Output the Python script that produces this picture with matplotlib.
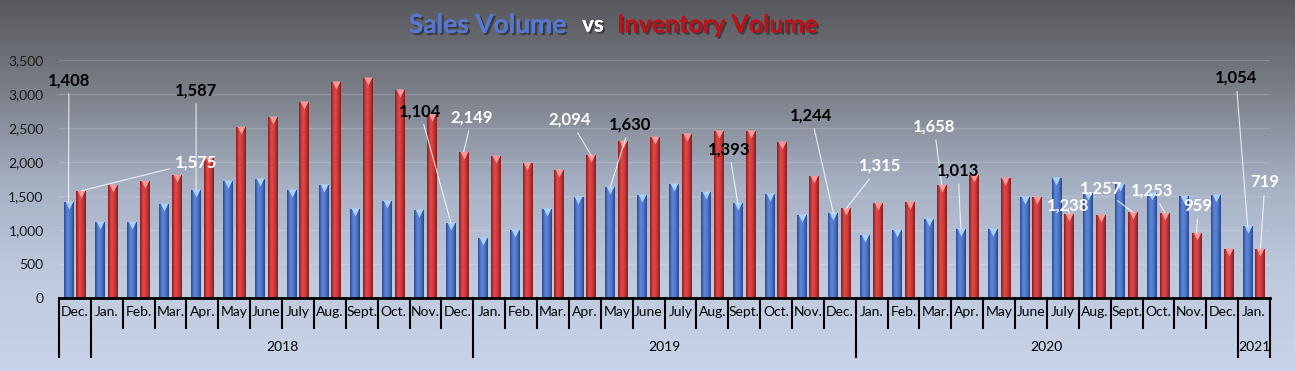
import numpy as np
import matplotlib
matplotlib.use('Agg')
import matplotlib.pyplot as plt
import matplotlib.transforms as mtransforms
import matplotlib.patheffects as pe
from matplotlib.colors import LinearSegmentedColormap

plt.rcParams['font.family'] = ['Lato', 'DejaVu Sans']

# monthly data, Dec 2017 .. Jan 2021
months = ['Dec.',
          'Jan.', 'Feb.', 'Mar.', 'Apr.', 'May', 'June', 'July', 'Aug.', 'Sept.', 'Oct.', 'Nov.', 'Dec.',
          'Jan.', 'Feb.', 'Mar.', 'Apr.', 'May', 'June', 'July', 'Aug.', 'Sept.', 'Oct.', 'Nov.', 'Dec.',
          'Jan.', 'Feb.', 'Mar.', 'Apr.', 'May', 'June', 'July', 'Aug.', 'Sept.', 'Oct.', 'Nov.', 'Dec.',
          'Jan.']
years = ['2018', '2019', '2020', '2021']
year_spans = [(1, 12), (13, 24), (25, 36), (37, 37)]

sales = [1408,
         1117, 1117, 1382, 1587, 1725, 1754, 1588, 1666, 1303, 1426, 1294, 1104,
         877, 1000, 1303, 1485, 1630, 1519, 1681, 1553, 1393, 1529, 1225, 1244,
         931, 995, 1156, 1013, 1014, 1490, 1759, 1535, 1681, 1535, 1499, 1519,
         1054]
inventory = [1575,
             1666, 1715, 1813, 2073, 2505, 2652, 2877, 3175, 3234, 3053, 2696, 2149,
             2088, 1990, 1877, 2094, 2308, 2367, 2416, 2455, 2455, 2293, 1793, 1315,
             1392, 1411, 1658, 1803, 1764, 1490, 1238, 1222, 1257, 1253, 959, 720,
             719]

# labelled points: (series, month index, text x, text y, text colour)
callouts = [
    ('s', 0, -0.19, 3200, 'black'),
    ('i', 0, 3.80, 1995, 'white'),
    ('s', 4, 3.80, 3053, 'black'),
    ('s', 12, 10.83, 2745, 'black'),
    ('i', 12, 12.46, 2652, 'white'),
    ('i', 16, 15.53, 2622, 'white'),
    ('s', 17, 17.42, 2553, 'black'),
    ('s', 21, 20.52, 2186, 'black'),
    ('s', 24, 23.10, 2686, 'black'),
    ('i', 24, 25.26, 1940, 'white'),
    ('i', 27, 26.96, 2524, 'white'),
    ('s', 28, 27.71, 1877, 'black'),
    ('i', 31, 31.16, 1363, 'white'),
    ('i', 33, 32.20, 1612, 'white'),
    ('i', 34, 33.80, 1583, 'white'),
    ('i', 35, 35.24, 1352, 'white'),
    ('s', 37, 36.43, 3234, 'black'),
    ('i', 37, 37.34, 1705, 'white'),
]

W, H = 1295, 371
fig = plt.figure(figsize=(W / 100, H / 100), dpi=100)

# background gradient
bg = fig.add_axes([0, 0, 1, 1], zorder=-10)
bg_cmap = LinearSegmentedColormap.from_list('bg', ['#58585c', '#7c808a', '#a6b1c4', '#bfcadf', '#c9d3e8'])
bg.imshow(np.linspace(0, 1, 256).reshape(-1, 1), aspect='auto', cmap=bg_cmap,
          extent=[0, 1, 0, 1], origin='upper')
bg.axis('off')

ax = fig.add_axes([59 / W, 1 - 298 / H, (1270 - 59) / W, (298 - 59.7) / H])
ax.patch.set_alpha(0)

x = np.arange(len(months))
bw = 0.31
off = 0.2

cyl_blue = LinearSegmentedColormap.from_list('cb', ['#2c4a92', '#5d86da', '#4e76c8', '#2a468c'])
cyl_red = LinearSegmentedColormap.from_list('cr', ['#8e1c1c', '#e04a4a', '#cc3a3a', '#8a1a1a'])
grad = np.linspace(0, 1, 64).reshape(1, -1)

for vals, dx, cmap, cap in [(sales, -off, cyl_blue, '#a8d0f8'), (inventory, off, cyl_red, '#f49a9a')]:
    bars = ax.bar(x + dx, vals, width=bw, color='none', edgecolor='none', zorder=3)
    for b in bars:
        im = ax.imshow(grad, cmap=cmap, aspect='auto', zorder=3,
                       extent=[b.get_x(), b.get_x() + b.get_width(), 0, b.get_height()])
        im.set_clip_path(b)
    tr = mtransforms.offset_copy(ax.transData, fig=fig, y=-3, units='dots')
    ax.plot(x + dx, vals, 'v', ms=5.5, color=cap, mec='none', transform=tr, zorder=4)

ax.set_xlim(-0.5, len(months) - 0.5)
ax.set_ylim(0, 3500)
ax.set_yticks(np.arange(0, 3501, 500))
ax.set_yticklabels([f'{v:,}' for v in range(0, 3501, 500)], fontsize=10, color='#1a1a1a')
ax.tick_params(axis='y', length=0, pad=11)
ax.set_xticks([])
ax.grid(axis='y', color='white', alpha=0.17, lw=1)
ax.set_axisbelow(True)
for s in ['left', 'right', 'top']:
    ax.spines[s].set_visible(False)
ax.spines['bottom'].set_linewidth(2)
ax.spines['bottom'].set_color('black')
ax.spines['bottom'].set_zorder(5)

# two-level category axis
trans = mtransforms.blended_transform_factory(ax.transData, ax.transAxes)
ax_h = 298 - 59.7
year_edges = {-0.5, 0.5, 12.5, 24.5, 36.5, 37.5}
for e in np.arange(-0.5, len(months)):
    ylo = -59 / ax_h if e in year_edges else -30 / ax_h
    ax.plot([e, e], [0, ylo], color='black', lw=1.5, transform=trans, clip_on=False)
for i, m in enumerate(months):
    ax.text(i, -14 / ax_h, m, transform=trans, ha='center', va='center', fontsize=10, color='black')
for yr, (a, b) in zip(years, year_spans):
    ax.text((a + b) / 2, -49 / ax_h, yr, transform=trans, ha='center', va='center',
            fontsize=10, color='black')

# callout labels
for ser, i, tx, ty, col in callouts:
    v = sales[i] if ser == 's' else inventory[i]
    px = i - off if ser == 's' else i + off
    ax.annotate(f'{v:,}', xy=(px, v), xytext=(tx, ty), ha='center', va='center',
                fontsize=12, fontweight='bold', color=col, zorder=6,
                arrowprops=dict(arrowstyle='-', color='white', lw=0.8, alpha=0.8,
                                shrinkA=2, shrinkB=0))

# title
shadow = [pe.withSimplePatchShadow(offset=(1.5, -1.5), shadow_rgbFace='#222222', alpha=0.6), pe.Normal()]
ty = 1 - 25 / H
fig.text(566 / W, ty, 'Sales Volume', ha='right', va='center', fontsize=19, fontweight='bold',
         color='#5578d0', path_effects=shadow)
fig.text(593 / W, ty, 'vs', ha='center', va='center', fontsize=16, fontweight='bold',
         color='white', path_effects=shadow)
fig.text(617 / W, ty, 'Inventory Volume', ha='left', va='center', fontsize=18, fontweight='bold',
         color='#c01018', path_effects=shadow)

fig.savefig('out.png', dpi=100)
